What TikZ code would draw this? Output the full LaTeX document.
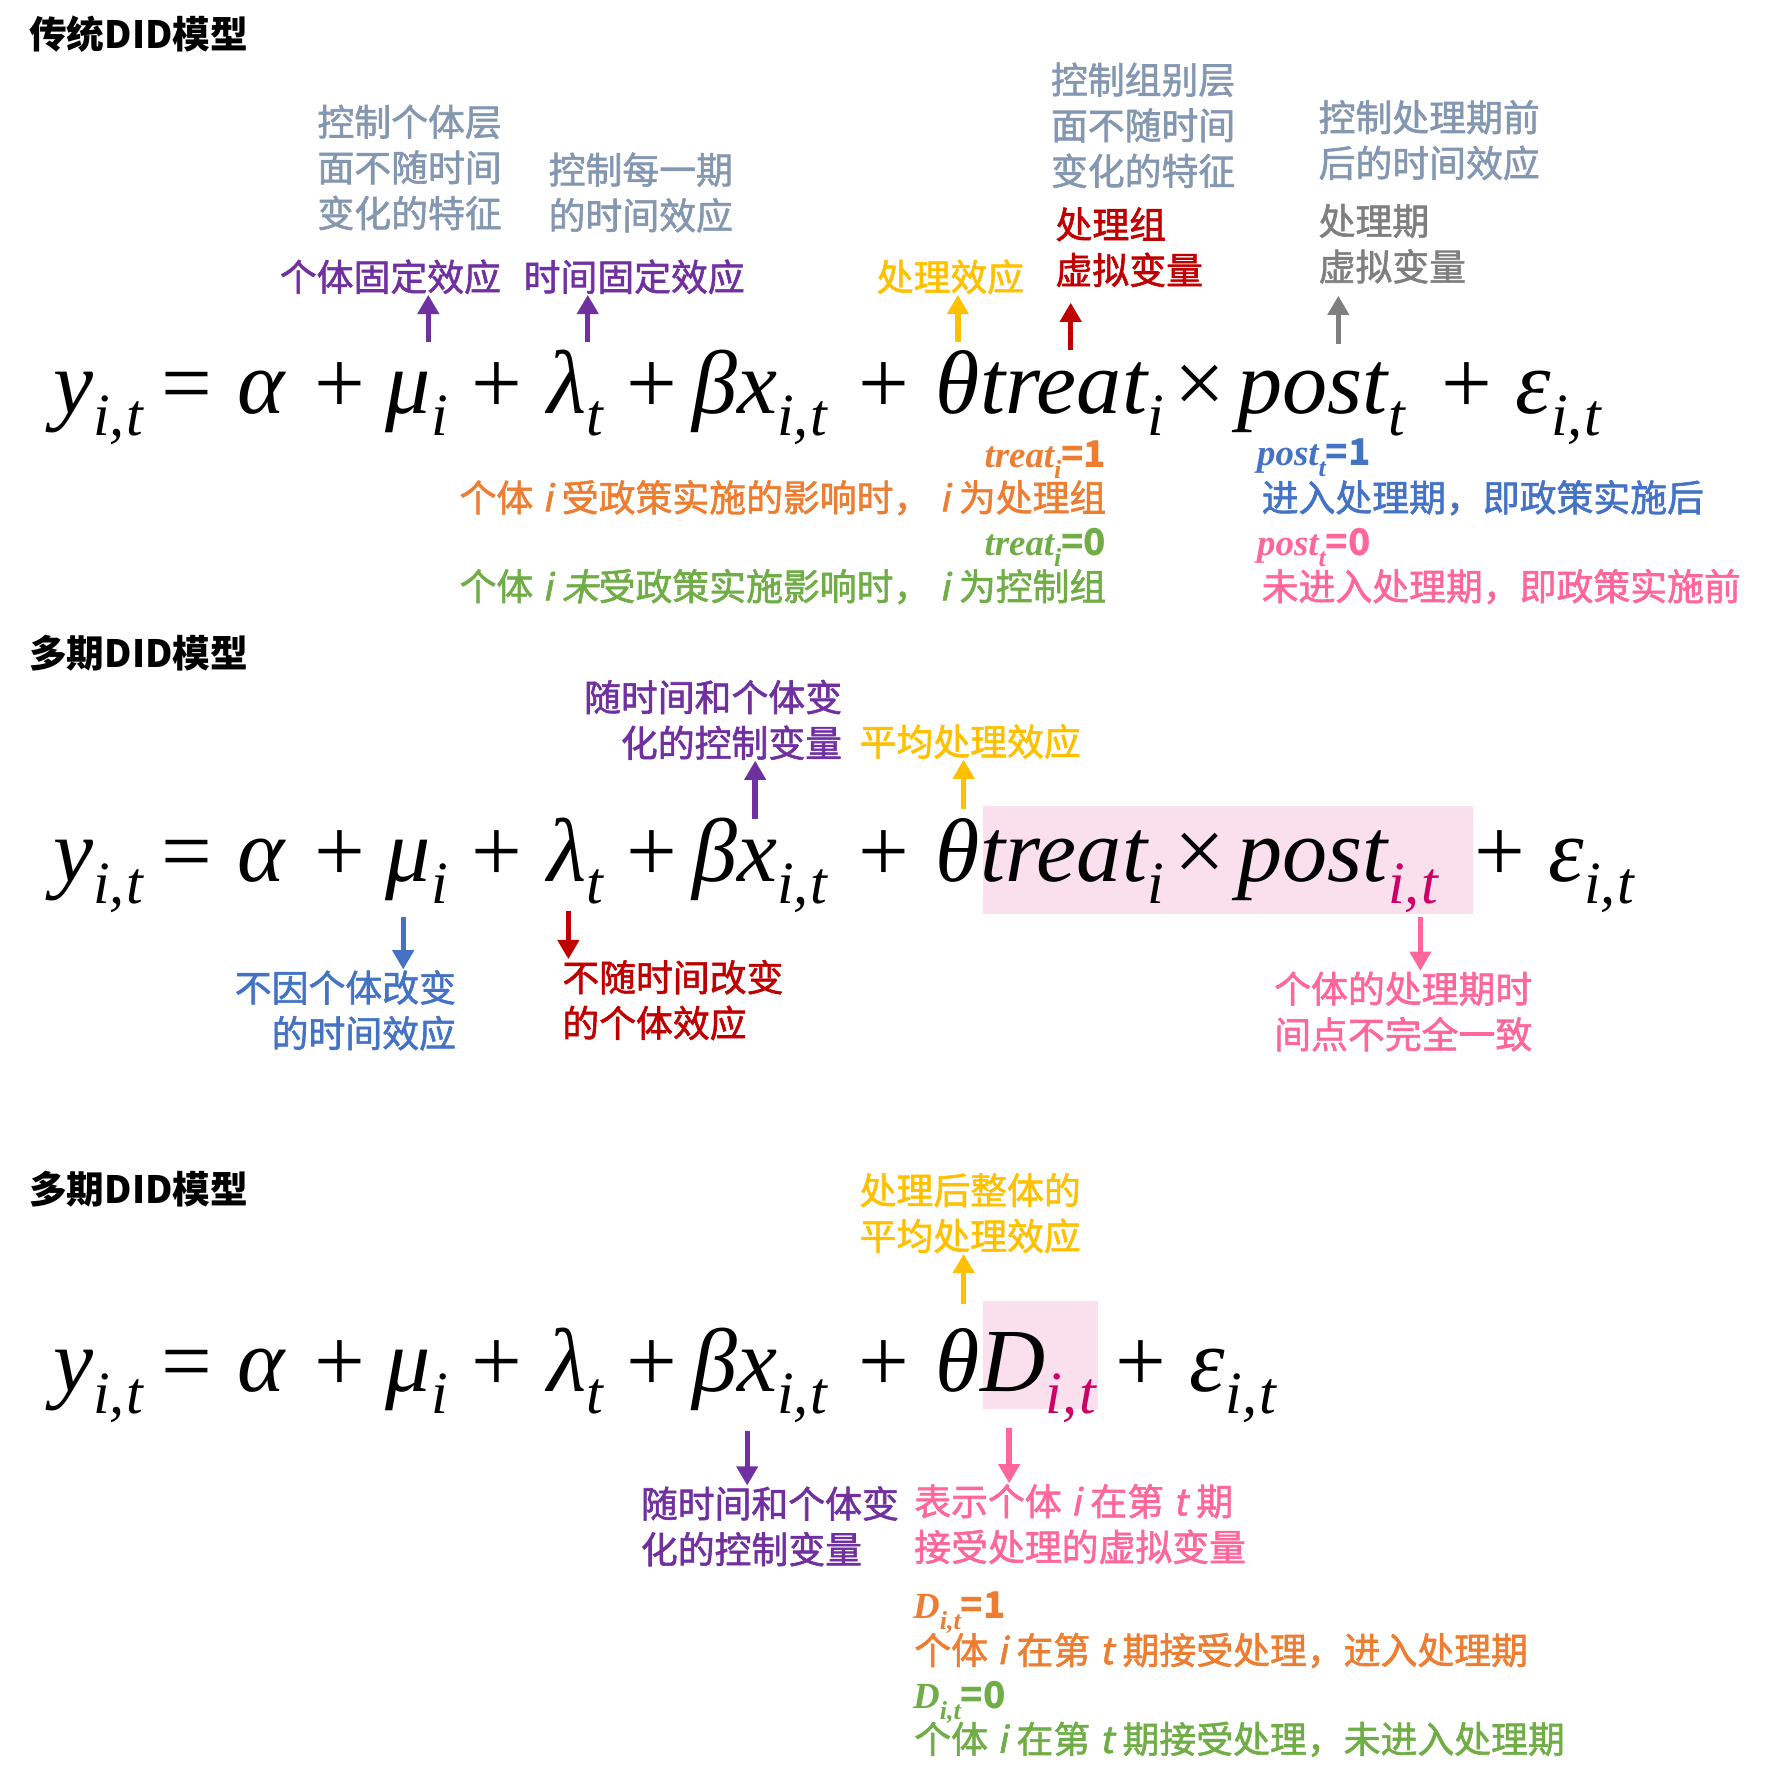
\documentclass[tikz,border=0pt]{standalone}
\usepackage{fontspec}
\setmainfont{Noto Sans CJK SC}
\newfontfamily\labfont{Noto Sans CJK SC}[FakeBold=1.6]
\newfontfamily\eqfont{Liberation Serif}
\newfontfamily\slantfont{Noto Sans CJK SC}[FakeSlant=0.2,FakeBold=1.6]
\usetikzlibrary{positioning,arrows.meta}

\definecolor{slate}{HTML}{8497B0}
\definecolor{cpurple}{HTML}{7030A0}
\definecolor{cgold}{HTML}{FFC000}
\definecolor{cred}{HTML}{C00000}
\definecolor{cgray}{HTML}{7F7F7F}
\definecolor{corange}{HTML}{ED7D31}
\definecolor{cgreen}{HTML}{70AD47}
\definecolor{cblue}{HTML}{4472C4}
\definecolor{cpink}{HTML}{FF6699}
\definecolor{cmag}{HTML}{CC0066}
\definecolor{cbox}{HTML}{FAE0ED}

\newcommand{\eqsize}{\eqfont\fontsize{22.5pt}{27pt}\selectfont}
\newcommand{\labsize}{\labfont\fontsize{9.2pt}{11.4pt}\selectfont}
\newcommand{\sbs}[1]{\raisebox{-0.24em}{\fontsize{15pt}{15pt}\selectfont\itshape #1}}
\newcommand{\csub}[1]{\raisebox{-0.3em}{\fontsize{6.5pt}{6.5pt}\selectfont\eqfont\itshape #1}}
\newcommand{\vi}{\hspace{0.25em}{\slantfont i}\hspace{0.25em}}
\newcommand{\vt}{\hspace{0.25em}{\slantfont t}\hspace{0.25em}}
\newcommand{\cvar}[2]{{\eqfont\itshape #1}\csub{#2}}

\newcommand{\lhsterms}[2]{%
  \node[term] (#1y) at (46,#2) {\itshape y\sbs{i,\kern0.5pt t}};
  \node[term] (#1eq) at (141,#2) {=};
  \node[term] (#1alpha) at (208,#2) {\itshape α};
  \node[term] (#1pa) at (275,#2) {+};
  \node[term] (#1mu) at (338,#2) {\itshape μ\sbs{i}};
  \node[term] (#1pb) at (413,#2) {+};
  \node[term] (#1lam) at (480,#2) {\itshape λ\sbs{t}};
  \node[term] (#1pc) at (549,#2) {+};
  \node[term] (#1bx) at (607,#2) {\itshape βx\sbs{i,\kern0.5pt t}};
  \node[term] (#1pd) at (753,#2) {+};
}

\begin{document}
\begin{tikzpicture}[x=0.01cm,y=-0.01cm,
    term/.style={anchor=base west,inner sep=0pt,font=\eqsize},
    lab/.style={inner sep=0pt,align=left,font=\labsize},
    labr/.style={inner sep=0pt,align=right,font=\labsize},
    ttl/.style={anchor=west,inner sep=0pt,font=\bfseries\fontsize{9.4pt}{11pt}\selectfont},
    cond/.style={inner sep=0pt,font=\bfseries\fontsize{9.2pt}{11.4pt}\selectfont},
    arrow/.style={-{Triangle[width=5.2pt,length=4.8pt]},line width=1.35pt}]
  \useasboundingbox (0,0) rectangle (1554,1568);

  \fill[cbox] (863,708) rectangle (1293,802);
  \fill[cbox] (863,1142) rectangle (964,1237);

  \lhsterms{a}{363}
  \node[term] (atheta) at (821,363) {\itshape θtreat\sbs{i}};
  \node[term] (atimes) at (1030,363) {×};
  \node[term] (apost) at (1086,363) {\itshape post\sbs{t}};
  \node[term] (ape) at (1265,363) {+};
  \node[term] (aeps) at (1330,363) {\itshape ε\sbs{i,\kern0.5pt t}};

  \lhsterms{b}{774}
  \node[term] (btheta) at (821,774) {\itshape θtreat\sbs{i}};
  \node[term] (btimes) at (1030,774) {×};
  \node[term] (bpost) at (1086,774) {\itshape post\sbs{\color{cmag}i,\kern0.5pt t}};
  \node[term] (bpe) at (1294,774) {+};
  \node[term] (beps) at (1359,774) {\itshape ε\sbs{i,\kern0.5pt t}};

  \lhsterms{c}{1222}
  \node[term] (ctheta) at (821,1222) {\itshape θD\sbs{\color{cmag}i,\kern0.5pt t}};
  \node[term] (cpe) at (979,1222) {+};
  \node[term] (ceps) at (1044,1222) {\itshape ε\sbs{i,\kern0.5pt t}};

  \node[ttl] (title1) at (25,30) {传统DID模型};
  \node[lab,slate,anchor=west] (why1) at (278,147) {控制个体层\\面不随时间\\变化的特征};
  \node[lab,slate,anchor=west] (why2) at (481,169) {控制每一期\\的时间效应};
  \node[lab,slate,anchor=west] (why3) at (922,110) {控制组别层\\面不随时间\\变化的特征};
  \node[lab,slate,anchor=west] (why4) at (1157,123) {控制处理期前\\后的时间效应};
  \node[lab,cpurple,anchor=west] (fe1) at (245,243) {个体固定效应};
  \node[lab,cpurple,anchor=west] (fe2) at (459,243) {时间固定效应};
  \node[lab,cgold,anchor=west] (te1) at (769,243) {处理效应};
  \node[lab,cred,anchor=west] (treatd) at (926,217) {处理组\\虚拟变量};
  \node[lab,cgray,anchor=west] (postd) at (1157,214) {处理期\\虚拟变量};

  \node[cond,corange,anchor=base east] (tr1) at (972,410) {\cvar{treat}{i}=1};
  \node[lab,corange,anchor=east] (tr1t) at (972,437) {个体\vi 受政策实施的影响时，\vi 为处理组};
  \node[cond,cgreen,anchor=base east] (tr0) at (972,488) {\cvar{treat}{i}=0};
  \node[lab,cgreen,anchor=east] (tr0t) at (972,515) {个体\vi {\slantfont 未}受政策实施影响时，\vi 为控制组};
  \node[cond,cblue,anchor=base west] (po1) at (1103,409) {\cvar{post}{t}=1};
  \node[lab,cblue,anchor=west] (po1t) at (1107,437) {进入处理期，即政策实施后};
  \node[cond,cpink,anchor=base west] (po0) at (1103,488) {\cvar{post}{t}=0};
  \node[lab,cpink,anchor=west] (po0t) at (1107,515) {未进入处理期，即政策实施前};

  \coordinate (amu) at (376,300);
  \coordinate (alam) at (516,300);
  \coordinate (ath) at (841,300);
  \coordinate (atr) at (940,307);
  \coordinate (apo) at (1175,302);
  \draw[arrow,cpurple] (amu) -- (amu |- fe1.south);
  \draw[arrow,cpurple] (alam) -- (alam |- fe2.south);
  \draw[arrow,cgold] (ath) -- (ath |- te1.south);
  \draw[arrow,cred,shorten >=1.3mm] (atr) -- (atr |- treatd.south);
  \draw[arrow,cgray,shorten >=1mm] (apo) -- (apo |- postd.south);

  \node[ttl] (title2) at (25,573) {多期DID模型};
  \node[labr,cpurple,anchor=east] (ctl2) at (740,632) {随时间和个体变\\化的控制变量};
  \node[lab,cgold,anchor=west] (avg2) at (754,651) {平均处理效应};
  \node[labr,cblue,anchor=east] (nt2) at (401,887) {不因个体改变\\的时间效应};
  \node[lab,cred,anchor=west] (ni2) at (493,878) {不随时间改变\\的个体效应};
  \node[lab,cpink,anchor=west] (dt2) at (1118,888) {个体的处理期时\\间点不完全一致};

  \coordinate (bbx) at (663,719);
  \coordinate (bth) at (846,710);
  \coordinate (bmu) at (354,805);
  \coordinate (blam) at (499,800);
  \coordinate (bpo) at (1247,805);
  \draw[arrow,cpurple] (bbx) -- (bbx |- ctl2.south);
  \draw[arrow,cgold] (bth) -- (bth |- avg2.south);
  \draw[arrow,cblue] (bmu) -- (bmu |- nt2.north);
  \draw[arrow,cred] (blam) -- (blam |- ni2.north);
  \draw[arrow,cpink] (bpo) -- (bpo |- dt2.north);

  \node[ttl] (title3) at (25,1044) {多期DID模型};
  \node[lab,cgold,anchor=west] (avg3) at (754,1065) {处理后整体的\\平均处理效应};
  \node[lab,cpurple,anchor=west] (ctl3) at (562,1340) {随时间和个体变\\化的控制变量};
  \node[lab,cpink,anchor=west] (dv3) at (802,1338) {表示个体\vi 在第\vt 期\\接受处理的虚拟变量};
  \node[cond,corange,anchor=base west] (d1) at (801,1421) {\cvar{D}{i,t}=1};
  \node[lab,corange,anchor=west] (d1t) at (802,1449) {个体\vi 在第\vt 期接受处理，进入处理期};
  \node[cond,cgreen,anchor=base west] (d0) at (801,1500) {\cvar{D}{i,t}=0};
  \node[lab,cgreen,anchor=west] (d0t) at (802,1527) {个体\vi 在第\vt 期接受处理，未进入处理期};

  \coordinate (cth) at (846,1145);
  \coordinate (cbx) at (656,1256);
  \coordinate (cd) at (886,1254);
  \draw[arrow,cgold] (cth) -- (cth |- avg3.south);
  \draw[arrow,cpurple] (cbx) -- (cbx |- ctl3.north);
  \draw[arrow,cpink] (cd) -- (cd |- dv3.north);
\end{tikzpicture}
\end{document}
